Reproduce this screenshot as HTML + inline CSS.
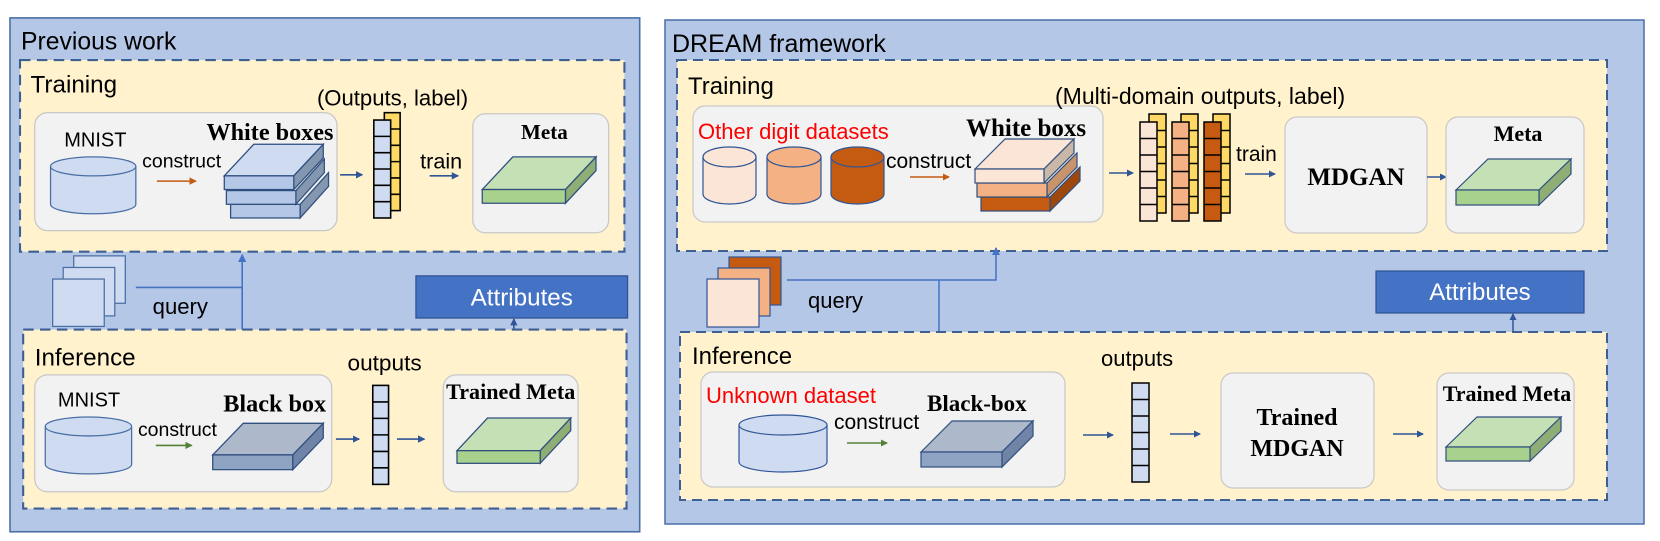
<!DOCTYPE html>
<html><head><meta charset="utf-8"><style>
html,body{margin:0;padding:0;background:#fff;}
svg{display:block;}
text{font-family:"Liberation Sans",sans-serif;}
.b{font-family:"Liberation Serif",serif;font-weight:bold;}
</style></head><body>
<svg width="1660" height="541" viewBox="0 0 1660 541" xmlns="http://www.w3.org/2000/svg">
<defs>
<marker id="ah" markerWidth="8" markerHeight="8" refX="6" refY="4" orient="auto" markerUnits="userSpaceOnUse"><path d="M0,0.5 L7,4 L0,7.5 z" fill="#2f5597"/></marker>
<marker id="ao" markerWidth="8" markerHeight="8" refX="6" refY="4" orient="auto" markerUnits="userSpaceOnUse"><path d="M0,0.5 L7,4 L0,7.5 z" fill="#c55a11"/></marker>
<marker id="ag" markerWidth="8" markerHeight="8" refX="6" refY="4" orient="auto" markerUnits="userSpaceOnUse"><path d="M0,0.5 L7,4 L0,7.5 z" fill="#538135"/></marker>
<marker id="al" markerWidth="9" markerHeight="9" refX="7" refY="4.5" orient="auto" markerUnits="userSpaceOnUse"><path d="M0,0.5 L8,4.5 L0,8.5 z" fill="#4472c4"/></marker>
</defs>

<!-- LEFT PANEL -->
<g transform="scale(1.053)">
<rect x="9.5" y="17" width="598" height="488" fill="#b4c7e7" stroke="#4a6fa5" stroke-width="1.5"/>
<text x="20" y="47" font-size="23.5">Previous work</text>
<rect x="19" y="57" width="574" height="182" fill="#fff2cc" stroke="#3e5f94" stroke-width="2" stroke-dasharray="10,6"/>
<text x="29" y="88" font-size="23">Training</text>
<rect x="33" y="107" width="287" height="112" rx="12" fill="#f2f2f2" stroke="#c8c8c8" stroke-width="1.2"/>
<text x="61" y="139" font-size="19">MNIST</text>
<path d="M48,158 V194 A40.5,9 0 0 0 129,194 V158" fill="#cfdbf0" stroke="#4a6fa5" stroke-width="1.2"/>
<ellipse cx="88.5" cy="158" rx="40.5" ry="9" fill="#cfdbf0" stroke="#4a6fa5" stroke-width="1.2"/>
<text x="135" y="159" font-size="18.5">construct</text>
<line x1="149" y1="172" x2="186" y2="172" stroke="#c55a11" stroke-width="1.5" marker-end="url(#ao)"/>
<text x="196" y="133" font-size="23" class="b">White boxes</text>
<g stroke="#2f4f7f" stroke-width="1.2">
<polygon points="285,194 312,164 312,177 285,207" fill="#8497b0"/><rect x="219" y="194" width="66" height="13" fill="#b4c7e7"/>
<polygon points="281,181 308,151 308,164 281,194" fill="#8497b0"/><rect x="215" y="181" width="66" height="13" fill="#b4c7e7"/>
<polygon points="213,167 241,137 307,137 279,167" fill="#cfdbf0"/>
<polygon points="279,167 307,137 307,150 279,180" fill="#8497b0"/><rect x="213" y="167" width="66" height="13" fill="#b4c7e7"/>
</g>
<line x1="323" y1="166" x2="344" y2="166" stroke="#2f5597" stroke-width="1.5" marker-end="url(#ah)"/>
<text x="301" y="100" font-size="21">(Outputs, label)</text>
<g stroke="#000" stroke-width="1.5">
<rect x="365" y="107" width="15" height="93" fill="#ffd966"/>
<line x1="365" y1="122.5" x2="380" y2="122.5"/><line x1="365" y1="138" x2="380" y2="138"/><line x1="365" y1="153.5" x2="380" y2="153.5"/><line x1="365" y1="169" x2="380" y2="169"/><line x1="365" y1="184.5" x2="380" y2="184.5"/>
<rect x="355" y="114" width="16" height="93" fill="#cfdbf0"/>
<line x1="355" y1="129.5" x2="371" y2="129.5"/><line x1="355" y1="145" x2="371" y2="145"/><line x1="355" y1="160.5" x2="371" y2="160.5"/><line x1="355" y1="176" x2="371" y2="176"/><line x1="355" y1="191.5" x2="371" y2="191.5"/>
</g>
<text x="399" y="160" font-size="20.5">train</text>
<line x1="408" y1="167" x2="435" y2="167" stroke="#2f5597" stroke-width="1.5" marker-end="url(#ah)"/>
<rect x="449" y="108" width="129" height="113" rx="12" fill="#f2f2f2" stroke="#c8c8c8" stroke-width="1.2"/>
<text x="517" y="132" font-size="20" class="b" text-anchor="middle">Meta</text>
<g stroke="#2f4f7f" stroke-width="1.2">
<polygon points="458,180 487,149 566,149 537,180" fill="#c5e0b4"/>
<polygon points="537,180 566,149 566,162 537,193" fill="#8fae75"/>
<rect x="458" y="180" width="79" height="13" fill="#a9d18e"/>
</g>
<g fill="#cfdbf0" stroke="#4a6fa5" stroke-width="1.2">
<rect x="70" y="243" width="49" height="45"/>
<rect x="60" y="254" width="49" height="46"/>
<rect x="50" y="265" width="49" height="45"/>
</g>
<polyline points="129,273 230,273" fill="none" stroke="#4472c4" stroke-width="1.5"/>
<line x1="230" y1="270" x2="230" y2="242" stroke="#4472c4" stroke-width="1.5" marker-end="url(#al)"/>
<line x1="230" y1="270" x2="230" y2="342" stroke="#4472c4" stroke-width="1.5" marker-end="url(#al)"/>
<text x="145" y="298" font-size="21">query</text>
<rect x="395" y="262" width="201" height="40" fill="#4472c4" stroke="#2f528f" stroke-width="1.2"/>
<text x="495.5" y="290" font-size="23" fill="#fff" text-anchor="middle">Attributes</text>
<line x1="488" y1="348" x2="488" y2="303" stroke="#2f5597" stroke-width="1.5" marker-end="url(#ah)"/>
<rect x="22" y="313" width="573" height="170" fill="#fff2cc" stroke="#3e5f94" stroke-width="2" stroke-dasharray="10,6"/>
<text x="33" y="347" font-size="23">Inference</text>
<rect x="33" y="356" width="282" height="111" rx="12" fill="#f2f2f2" stroke="#c8c8c8" stroke-width="1.2"/>
<text x="55" y="386" font-size="19">MNIST</text>
<path d="M43,405 V441 A41,9 0 0 0 125,441 V405" fill="#cfdbf0" stroke="#4a6fa5" stroke-width="1.2"/>
<ellipse cx="84" cy="405" rx="41" ry="9" fill="#cfdbf0" stroke="#4a6fa5" stroke-width="1.2"/>
<text x="131" y="414" font-size="18.5">construct</text>
<line x1="148" y1="423" x2="182" y2="423" stroke="#538135" stroke-width="1.5" marker-end="url(#ag)"/>
<text x="212" y="391" font-size="23" class="b">Black box</text>
<g stroke="#2f4f7f" stroke-width="1.2">
<polygon points="202,432 231,402 307,402 278,432" fill="#adb9ca"/>
<polygon points="278,432 307,402 307,416 278,446" fill="#6f84a6"/>
<rect x="202" y="432" width="76" height="14" fill="#8fa3c2"/>
</g>
<line x1="319" y1="417" x2="341" y2="417" stroke="#2f5597" stroke-width="1.5" marker-end="url(#ah)"/>
<text x="330" y="352" font-size="21.5">outputs</text>
<g stroke="#000" stroke-width="1.5">
<rect x="354" y="366" width="15" height="94" fill="#cfdbf0"/>
<line x1="354" y1="381.7" x2="369" y2="381.7"/><line x1="354" y1="397.3" x2="369" y2="397.3"/><line x1="354" y1="413" x2="369" y2="413"/><line x1="354" y1="428.7" x2="369" y2="428.7"/><line x1="354" y1="444.3" x2="369" y2="444.3"/>
</g>
<line x1="377" y1="417" x2="403" y2="417" stroke="#2f5597" stroke-width="1.5" marker-end="url(#ah)"/>
<rect x="421" y="356" width="128" height="111" rx="12" fill="#f2f2f2" stroke="#c8c8c8" stroke-width="1.2"/>
<text x="485" y="379" font-size="21" class="b" text-anchor="middle">Trained Meta</text>
<g stroke="#2f4f7f" stroke-width="1.2">
<polygon points="434,428 463,397 542,397 513,428" fill="#c5e0b4"/>
<polygon points="513,428 542,397 542,409 513,440" fill="#8fae75"/>
<rect x="434" y="428" width="79" height="12" fill="#a9d18e"/>
</g>
</g>

<!-- RIGHT PANEL -->
<rect x="665" y="20" width="979" height="504" fill="#b4c7e7" stroke="#4a6fa5" stroke-width="1.5"/>
<text x="672" y="52" font-size="25">DREAM framework</text>
<rect x="677" y="60" width="930" height="191" fill="#fff2cc" stroke="#3e5f94" stroke-width="2" stroke-dasharray="10,6"/>
<text x="688" y="94" font-size="24">Training</text>
<rect x="693" y="106" width="410" height="116" rx="12" fill="#f2f2f2" stroke="#c8c8c8" stroke-width="1.2"/>
<text x="698" y="139" font-size="22" fill="#ff0000">Other digit datasets</text>
<g stroke="#2f5597" stroke-width="1.2">
<path d="M703,157 V194 A26.5,10 0 0 0 756,194 V157" fill="#fbe5d6"/><ellipse cx="729.5" cy="157" rx="26.5" ry="10" fill="#fbe5d6"/>
<path d="M767,157 V194 A27,10 0 0 0 821,194 V157" fill="#f4b183"/><ellipse cx="794" cy="157" rx="27" ry="10" fill="#f4b183"/>
<path d="M831,157 V194 A26.5,10 0 0 0 884,194 V157" fill="#c55a11"/><ellipse cx="857.5" cy="157" rx="26.5" ry="10" fill="#c55a11"/>
</g>
<text x="886" y="168" font-size="21">construct</text>
<line x1="910" y1="177" x2="949" y2="177" stroke="#c55a11" stroke-width="1.5" marker-end="url(#ao)"/>
<text x="966" y="136" font-size="25" class="b">White boxs</text>
<g stroke="#2f4f7f" stroke-width="1.2">
<polygon points="1050,197 1080,167 1080,181 1050,211" fill="#9e480e"/><rect x="981" y="197" width="69" height="14" fill="#c55a11"/>
<polygon points="1047,183 1077,153 1077,167 1047,197" fill="#c8946b"/><rect x="977" y="183" width="70" height="14" fill="#f4b183"/>
<polygon points="975,169 1005,139 1074,139 1044,169" fill="#fbe5d6"/>
<polygon points="1044,169 1074,139 1074,153 1044,183" fill="#c9b8a8"/><rect x="975" y="169" width="69" height="14" fill="#fbe5d6"/>
</g>
<line x1="1109" y1="173" x2="1133" y2="173" stroke="#2f5597" stroke-width="1.5" marker-end="url(#ah)"/>
<text x="1055" y="104" font-size="23">(Multi-domain outputs, label)</text>
<g stroke="#000" stroke-width="1.5">
<g>
<rect x="1149" y="114" width="17" height="99" fill="#ffd966"/>
<path d="M1149,130.5H1166M1149,147H1166M1149,163.5H1166M1149,180H1166M1149,196.5H1166" fill="none"/>
<rect x="1140" y="122" width="17" height="99" fill="#fbe5d6"/>
<path d="M1140,138.5H1157M1140,155H1157M1140,171.5H1157M1140,188H1157M1140,204.5H1157" fill="none"/>
</g>
<g transform="translate(32,0)">
<rect x="1149" y="114" width="17" height="99" fill="#ffd966"/>
<path d="M1149,130.5H1166M1149,147H1166M1149,163.5H1166M1149,180H1166M1149,196.5H1166" fill="none"/>
<rect x="1140" y="122" width="17" height="99" fill="#f4b183"/>
<path d="M1140,138.5H1157M1140,155H1157M1140,171.5H1157M1140,188H1157M1140,204.5H1157" fill="none"/>
</g>
<g transform="translate(64,0)">
<rect x="1149" y="114" width="17" height="99" fill="#ffd966"/>
<path d="M1149,130.5H1166M1149,147H1166M1149,163.5H1166M1149,180H1166M1149,196.5H1166" fill="none"/>
<rect x="1140" y="122" width="17" height="99" fill="#c55a11"/>
<path d="M1140,138.5H1157M1140,155H1157M1140,171.5H1157M1140,188H1157M1140,204.5H1157" fill="none"/>
</g>
</g>
<text x="1236" y="161" font-size="21">train</text>
<line x1="1245" y1="174" x2="1275" y2="174" stroke="#2f5597" stroke-width="1.5" marker-end="url(#ah)"/>
<rect x="1285" y="117" width="142" height="116" rx="12" fill="#f2f2f2" stroke="#c8c8c8" stroke-width="1.2"/>
<text x="1356" y="185" font-size="25" class="b" text-anchor="middle">MDGAN</text>
<line x1="1427" y1="177" x2="1446" y2="177" stroke="#2f5597" stroke-width="1.5" marker-end="url(#ah)"/>
<rect x="1446" y="117" width="138" height="116" rx="12" fill="#f2f2f2" stroke="#c8c8c8" stroke-width="1.2"/>
<text x="1518" y="141" font-size="22" class="b" text-anchor="middle">Meta</text>
<g stroke="#2f4f7f" stroke-width="1.2">
<polygon points="1456,190 1488,159 1571,159 1539,190" fill="#c5e0b4"/>
<polygon points="1539,190 1571,159 1571,174 1539,205" fill="#8fae75"/>
<rect x="1456" y="190" width="83" height="15" fill="#a9d18e"/>
</g>
<g stroke="#2f5597" stroke-width="1.2">
<rect x="729" y="257" width="52" height="48" fill="#c55a11"/>
<rect x="718" y="268" width="52" height="48" fill="#f4b183"/>
<rect x="707" y="279" width="52" height="48" fill="#fbe5d6"/>
</g>
<polyline points="787,280 996,280 996,248" fill="none" stroke="#4472c4" stroke-width="1.5" marker-end="url(#al)"/>
<line x1="939" y1="280" x2="939" y2="347" stroke="#4472c4" stroke-width="1.5" marker-end="url(#al)"/>
<text x="808" y="308" font-size="22">query</text>
<rect x="1376" y="271" width="208" height="42" fill="#4472c4" stroke="#2f528f" stroke-width="1.2"/>
<text x="1480" y="300" font-size="24" fill="#fff" text-anchor="middle">Attributes</text>
<line x1="1513" y1="367" x2="1513" y2="314" stroke="#2f5597" stroke-width="1.5" marker-end="url(#ah)"/>
<rect x="680" y="332" width="927" height="168" fill="#fff2cc" stroke="#3e5f94" stroke-width="2" stroke-dasharray="10,6"/>
<text x="692" y="364" font-size="24">Inference</text>
<rect x="701" y="372" width="364" height="115" rx="12" fill="#f2f2f2" stroke="#c8c8c8" stroke-width="1.2"/>
<text x="706" y="403" font-size="22" fill="#ff0000">Unknown dataset</text>
<path d="M739,425 V462 A44,10 0 0 0 827,462 V425" fill="#cfdbf0" stroke="#2f5597" stroke-width="1.2"/>
<ellipse cx="783" cy="425" rx="44" ry="10" fill="#cfdbf0" stroke="#2f5597" stroke-width="1.2"/>
<text x="834" y="429" font-size="21">construct</text>
<line x1="847" y1="443" x2="887" y2="443" stroke="#538135" stroke-width="1.5" marker-end="url(#ag)"/>
<text x="927" y="411" font-size="23" class="b">Black-box</text>
<g stroke="#2f4f7f" stroke-width="1.2">
<polygon points="921,452 952,421 1033,421 1002,452" fill="#adb9ca"/>
<polygon points="1002,452 1033,421 1033,436 1002,467" fill="#6f84a6"/>
<rect x="921" y="452" width="81" height="15" fill="#8fa3c2"/>
</g>
<line x1="1083" y1="435" x2="1113" y2="435" stroke="#2f5597" stroke-width="1.5" marker-end="url(#ah)"/>
<text x="1101" y="366" font-size="22">outputs</text>
<g stroke="#000" stroke-width="1.5">
<rect x="1132" y="383" width="17" height="99" fill="#cfdbf0"/>
<path d="M1132,399.5H1149M1132,416H1149M1132,432.5H1149M1132,449H1149M1132,465.5H1149" fill="none"/>
</g>
<line x1="1170" y1="434" x2="1200" y2="434" stroke="#2f5597" stroke-width="1.5" marker-end="url(#ah)"/>
<rect x="1221" y="373" width="153" height="115" rx="12" fill="#f2f2f2" stroke="#c8c8c8" stroke-width="1.2"/>
<text x="1297" y="425" font-size="24" class="b" text-anchor="middle">Trained</text>
<text x="1297" y="456" font-size="24" class="b" text-anchor="middle">MDGAN</text>
<line x1="1393" y1="434" x2="1423" y2="434" stroke="#2f5597" stroke-width="1.5" marker-end="url(#ah)"/>
<rect x="1437" y="373" width="137" height="117" rx="12" fill="#f2f2f2" stroke="#c8c8c8" stroke-width="1.2"/>
<text x="1507" y="401" font-size="22" class="b" text-anchor="middle">Trained Meta</text>
<g stroke="#2f4f7f" stroke-width="1.2">
<polygon points="1446,447 1477,417 1561,417 1530,447" fill="#c5e0b4"/>
<polygon points="1530,447 1561,417 1561,431 1530,461" fill="#8fae75"/>
<rect x="1446" y="447" width="84" height="14" fill="#a9d18e"/>
</g>
</svg>
</body></html>
